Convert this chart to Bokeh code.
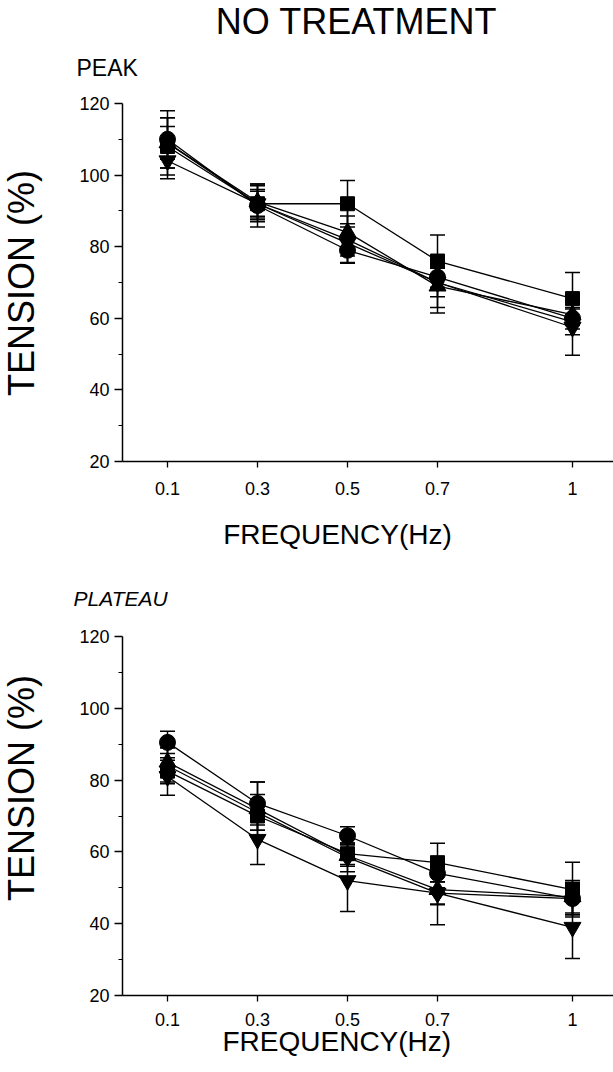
from bokeh.plotting import figure
from bokeh.models import FixedTicker, Whisker, TeeHead, ColumnDataSource, Title
from bokeh.core.properties import value
from bokeh.layouts import column, row
from bokeh.embed import file_html
from bokeh.resources import INLINE

# ---------------- data ----------------
freq = [0.1, 0.3, 0.5, 0.7, 1.0]
freq_labels = ["0.1", "0.3", "0.5", "0.7", "1"]
y_major = [20, 40, 60, 80, 100, 120]
y_minor = [30, 50, 70, 90, 110]

# PEAK
peak_square = [108, 92, 92, 76, 65.5]
peak_square_err = [8, 5, 6.5, 7.3, 7.3]
peak_circle = [110, 91.5, 79, 71.5, 60]
peak_circle_err = [8, 6, 3.5, 3, 3]
peak_triangle = [109, 92.5, 84, 69, 61]
peak_triangle_err = [7, 5, 6.6, 7.5, 3]
peak_invtri = [104, 92, 81, 70, 57.5]
peak_invtri_err = [5, 4, 5.4, 4, 7.8]
peak_diamond = [109, 92, 82, 70, 59]
peak_diamond_err = [4.6, 3.5, 6.6, 7, 3.6]

# PLATEAU
plat_square = [82.5, 70, 59.5, 57, 49.5]
plat_square_err = [3, 4, 3, 5.4, 7.6]
plat_circle = [90.5, 73.5, 64.5, 54, 47]
plat_circle_err = [3.1, 6, 2.5, 4, 4.5]
plat_triangle = [85, 72, 59, 49.5, 47.5]
plat_triangle_err = [4, 7.5, 3, 4, 4.5]
plat_invtri = [81, 63.5, 52, 48.5, 39]
plat_invtri_err = [5.2, 7, 8.6, 8.8, 8.7]
plat_diamond = [84, 71, 58.5, 48.5, 47]
plat_diamond_err = [5, 5, 4, 3.2, 4.5]

TITLE = "NO TREATMENT"
PANEL_TITLES = ["PEAK", "PLATEAU"]
Y_LABEL = "TENSION (%)"
X_LABEL = "FREQUENCY(Hz)"

FONT = "Liberation Sans"


def strip(w, h):
    """A plain text strip: its frame fills the canvas, one unit = one pixel."""
    f = figure(width=w, height=h, x_range=(0, w), y_range=(0, h),
               min_border=0, x_axis_location=None, y_axis_location=None,
               title=None, output_backend="svg", toolbar_location=None)
    f.grid.visible = False
    f.outline_line_color = None
    f.background_fill_color = "white"
    f.border_fill_color = "white"
    return f


def put_text(f, x, y, txt, size, align="left", angle=0.0, style="normal"):
    f.text(x=[x], y=[y], text=[txt], angle=angle,
           text_font=value(FONT), text_font_size=value(size),
           text_font_style=value(style), text_color="black",
           text_align=align, text_baseline="alphabetic")


def make_panel(series, frame_h, top_b, bottom_b, xstandoff):
    p = figure(frame_width=491, frame_height=frame_h,
               min_border_left=60, min_border_right=0,
               min_border_top=top_b, min_border_bottom=bottom_b,
               x_range=(0, 491 / 450), y_range=(20, 120),
               title=None, output_backend="svg", toolbar_location=None)
    p.grid.visible = False
    p.outline_line_color = None
    p.background_fill_color = "white"
    p.border_fill_color = "white"

    for ys, errs, marker, size in series:
        p.line(freq, ys, line_color="black", line_width=1.3)
    for ys, errs, marker, size in series:
        src = ColumnDataSource(dict(x=freq,
                                    lo=[v - e for v, e in zip(ys, errs)],
                                    hi=[v + e for v, e in zip(ys, errs)]))
        w = Whisker(source=src, base="x", lower="lo", upper="hi",
                    line_color="black", line_width=1.5,
                    upper_head=TeeHead(size=15, line_color="black", line_width=1.5),
                    lower_head=TeeHead(size=15, line_color="black", line_width=1.5))
        p.add_layout(w)
    for ys, errs, marker, size in series:
        p.scatter(freq, ys, marker=marker, size=size,
                  fill_color="black", line_color="black")

    xa = p.xaxis[0]
    xa.ticker = FixedTicker(ticks=freq)
    xa.major_label_overrides = {f: l for f, l in zip(freq, freq_labels)}
    xa.major_tick_out = 6
    xa.major_tick_in = 0
    xa.minor_tick_out = 0
    xa.major_label_standoff = xstandoff

    ya = p.yaxis[0]
    ya.ticker = FixedTicker(ticks=y_major, minor_ticks=y_minor)
    ya.major_tick_out = 8
    ya.major_tick_in = 0
    ya.minor_tick_out = 4
    ya.minor_tick_in = 0
    ya.major_label_standoff = 5

    for ax in (xa, ya):
        ax.axis_line_color = "black"
        ax.axis_line_width = 1.5
        ax.major_tick_line_color = "black"
        ax.major_tick_line_width = 1.3
        ax.minor_tick_line_color = "black"
        ax.minor_tick_line_width = 1.2
        ax.major_label_text_font = FONT
        ax.major_label_text_font_size = "18px"
        ax.major_label_text_color = "black"
    return p


peak_series = [
    (peak_square, peak_square_err, "square", 14),
    (peak_circle, peak_circle_err, "circle", 16),
    (peak_triangle, peak_triangle_err, "triangle", 17),
    (peak_invtri, peak_invtri_err, "inverted_triangle", 17),
    (peak_diamond, peak_diamond_err, "diamond", 19),
]
plat_series = [
    (plat_square, plat_square_err, "square", 14),
    (plat_circle, plat_circle_err, "circle", 16),
    (plat_triangle, plat_triangle_err, "triangle", 17),
    (plat_invtri, plat_invtri_err, "inverted_triangle", 17),
    (plat_diamond, plat_diamond_err, "diamond", 19),
]

# header strip: page y 0..90
head = strip(613, 90)
put_text(head, 356, 69, TITLE, "36px", align="center")
put_text(head, 76, 23, PANEL_TITLES[0], "23px")

# first panel row: page y 90..519
p1 = make_panel(peak_series, 358, 13, 58, 14)
t1 = strip(62, 429)
put_text(t1, 21, 214, Y_LABEL, "36px", align="center", angle=1.5708)

# middle strip: page y 519..612
mid = strip(613, 93)
put_text(mid, 337, 78, X_LABEL, "28px", align="center")
put_text(mid, 73, 14, PANEL_TITLES[1], "21px", style="italic")

# second panel row: page y 612..
p2 = make_panel(plat_series, 359, 24, 72, 11)
p2.add_layout(Title(text=X_LABEL, text_font=FONT, text_font_size="28px",
                    text_font_style="normal", text_color="black",
                    align="left", offset=100, standoff=-10), "below")
t2 = strip(62, 455)
put_text(t2, 21, 263, Y_LABEL, "36px", align="center", angle=1.5708)

layout = column(head, row(t1, p1, spacing=0), mid, row(t2, p2, spacing=0), spacing=0)
open("out.html", "w").write(file_html(layout, INLINE))
